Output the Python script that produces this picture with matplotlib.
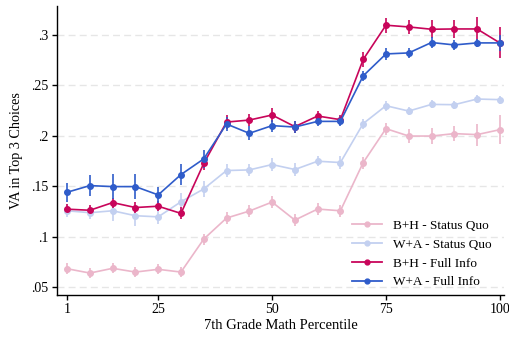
import numpy as np
import matplotlib
matplotlib.use('Agg')
import matplotlib.pyplot as plt
from matplotlib.lines import Line2D

plt.rcParams['font.family'] = ['Liberation Serif', 'DejaVu Serif']

# percentile bins (plotted at 5, 10, ..., 100)
x = np.arange(5, 101, 5)

bh_sq = [.0684, .0641, .0688, .0651, .0678, .0651, .0977, .1185, .1254, .1343,
         .1165, .1274, .1257, .1733, .2069, .1996, .1996, .2020, .2010, .2059]
bh_sq_err = [.0053, .005, .005, .005, .005, .005, .0055, .006, .006, .0063,
             .006, .006, .006, .006, .006, .0066, .008, .0075, .011, .0145]

wa_sq = [.1257, .1238, .1257, .1208, .1197, .1346, .1473, .1655, .1661, .1714,
         .1665, .1747, .1734, .2119, .2296, .2243, .2309, .2306, .2362, .2356]
wa_sq_err = [.0066, .0066, .010, .010, .0066, .009, .008, .006, .006, .006,
             .006, .005, .006, .005, .005, .004, .004, .004, .004, .004]

bh_fi = [.1273, .1262, .1338, .1289, .1302, .1231, .1725, .2134, .2154, .2204,
         .2089, .2194, .2158, .2753, .3092, .3075, .3052, .3055, .3055, .2917]
bh_fi_err = [.005, .005, .005, .0055, .005, .006, .006, .007, .006, .007,
             .006, .005, .005, .0077, .0073, .007, .009, .0087, .0115, .0153]

wa_fi = [.1440, .1506, .1496, .1496, .1414, .1615, .1770, .2115, .2023, .2099,
         .2085, .2141, .2141, .2591, .2808, .2818, .2921, .2897, .2917, .2917]
wa_fi_err = [.0094, .010, .0125, .012, .0083, .010, .009, .007, .007, .006,
             .006, .005, .005, .005, .006, .005, .005, .005, .004, .008]

series = [
	('B+H - Status Quo', bh_sq, bh_sq_err, '#ebb6ca'),
	('W+A - Status Quo', wa_sq, wa_sq_err, '#c3d0f0'),
	('B+H - Full Info', bh_fi, bh_fi_err, '#c8055a'),
	('W+A - Full Info', wa_fi, wa_fi_err, '#2f5cca'),
]

xticks = [5, 25, 50, 75, 100]
xticklabels = ['1', '25', '50', '75', '100']
yticks = [.05, .1, .15, .2, .25, .3]
yticklabels = ['.05', '.1', '.15', '.2', '.25', '.3']

fig = plt.figure(figsize=(5.1, 3.37), dpi=100)
ax = fig.add_axes([0.111, 0.1246, 0.878, 0.857])

handles = []
for label, y, err, color in series:
	ax.errorbar(x, y, yerr=err, color=color, marker='o', markersize=4,
				linewidth=1.2, elinewidth=1.2, capsize=0)
	handles.append(Line2D([], [], color=color, marker='o', markersize=3.5,
						  linewidth=1.3, label=label))

ax.set_xlim(2.7, 101)
ax.set_ylim(0.0424, 0.328)
ax.set_xticks(xticks)
ax.set_xticklabels(xticklabels)
ax.set_yticks(yticks)
ax.set_yticklabels(yticklabels)
ax.yaxis.grid(True, color='#e6e6e6', linestyle=(0, (5, 3)), linewidth=1)
ax.set_axisbelow(True)

for side in ['top', 'right']:
	ax.spines[side].set_visible(False)
for side in ['left', 'bottom']:
	ax.spines[side].set_linewidth(1)
ax.tick_params(labelsize=10, length=3.5, width=1, pad=2.5)

ax.set_xlabel('7th Grade Math Percentile', fontsize=10.5, labelpad=2)
ax.set_ylabel('VA in Top 3 Choices', fontsize=10.2, labelpad=6)

ax.legend(handles=handles, loc='lower right', frameon=False, fontsize=9.5,
		  handlelength=2.3, handletextpad=0.8, labelspacing=0.5,
		  bbox_to_anchor=(0.997, -0.018))

fig.savefig('out.png', dpi=100)
